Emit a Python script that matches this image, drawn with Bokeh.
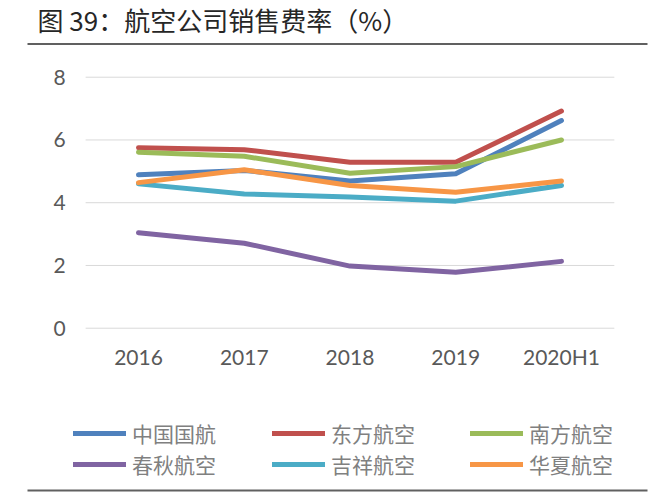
from bokeh.plotting import figure
from bokeh.models import (Range1d, FixedTicker, Legend, LegendItem, Label,
                          BoxAnnotation)
from bokeh.embed import file_html
from bokeh.resources import INLINE

# ---- data ----
categories = ["2016", "2017", "2018", "2019", "2020H1"]
air_china = [4.89, 5.03, 4.69, 4.92, 6.62]
china_eastern = [5.75, 5.69, 5.29, 5.29, 6.92]
china_southern = [5.61, 5.48, 4.94, 5.15, 6.00]
spring = [3.04, 2.71, 1.98, 1.78, 2.13]
juneyao = [4.60, 4.28, 4.18, 4.05, 4.55]
huaxia = [4.64, 5.05, 4.55, 4.33, 4.69]
series_names = ["中国国航", "东方航空", "南方航空", "春秋航空", "吉祥航空", "华夏航空"]
y_ticks = [0, 2, 4, 6, 8]
title_text = "图 39：航空公司销售费率（%）"

series = [air_china, china_eastern, china_southern, spring, juneyao, huaxia]
colors = ["#4F81BD", "#C0504D", "#9BBB59", "#8064A2", "#4BACC6", "#F79646"]
xs = list(range(len(categories)))

W, H = 648, 496
RULE = "#606060"

# whole canvas is the frame; axes sit at fixed locations inside it
p = figure(width=W, height=H, x_range=Range1d(-1.305, 4.823),
           y_range=Range1d(-5.364, 10.445), output_backend="svg",
           toolbar_location=None, min_border=0)
p.outline_line_color = None
p.grid.grid_line_color = None

p.xaxis.ticker = FixedTicker(ticks=xs)
p.xaxis.major_label_overrides = {i: c for i, c in zip(xs, categories)}
p.xaxis.fixed_location = -0.2
p.yaxis.ticker = FixedTicker(ticks=y_ticks)
p.yaxis.fixed_location = -0.5
for ax in (p.xaxis[0], p.yaxis[0]):
    ax.axis_line_color = None
    ax.major_tick_line_color = None
    ax.minor_tick_line_color = None
    ax.major_label_text_font = "Lato"
    ax.major_label_text_font_size = "21px"
    ax.major_label_text_color = "#595959"
p.yaxis[0].major_label_standoff = 14
p.xaxis[0].major_label_standoff = 4

# horizontal gridlines spanning the category bands
n = len(categories)
p.segment(x0=[-0.5] * len(y_ticks), x1=[n - 0.5] * len(y_ticks),
          y0=y_ticks, y1=y_ticks, line_color="#d9d9d9", line_width=1)

renderers = []
for vals, col in zip(series, colors):
    renderers.append(p.line(xs, vals, line_color=col, line_width=5,
                            line_cap="round", line_join="round"))

# legend: one small legend per entry on a 3x2 grid
col_x = [73, 272, 470]
row_y = [43.1, 12.1]
for i, (name, r) in enumerate(zip(series_names, renderers)):
    c, rw = i % 3, i // 3
    lg = Legend(items=[LegendItem(label=name, renderers=[r])],
                location=(col_x[c], row_y[rw]), orientation="vertical",
                padding=0, margin=0, spacing=0,
                glyph_width=53, glyph_height=40, label_height=40,
                label_standoff=6, border_line_color=None,
                background_fill_alpha=0,
                label_text_font="Noto Sans CJK SC", label_text_font_size="21px",
                label_text_color="#808080")
    p.add_layout(lg, "center")

# title and rules
p.add_layout(Label(x=37, y=H - 19, x_units="screen", y_units="screen",
                   text=title_text, text_font="Noto Sans CJK SC",
                   text_font_size="26px", text_color="#262626",
                   text_baseline="middle"))
for yc in (H - 43.5, H - 490):
    p.add_layout(BoxAnnotation(left=27, right=647, bottom=yc - 1, top=yc + 1,
                               left_units="screen", right_units="screen",
                               top_units="screen", bottom_units="screen",
                               fill_color=RULE, fill_alpha=1, line_color=None))

open("out.html", "w").write(file_html(p, INLINE))
